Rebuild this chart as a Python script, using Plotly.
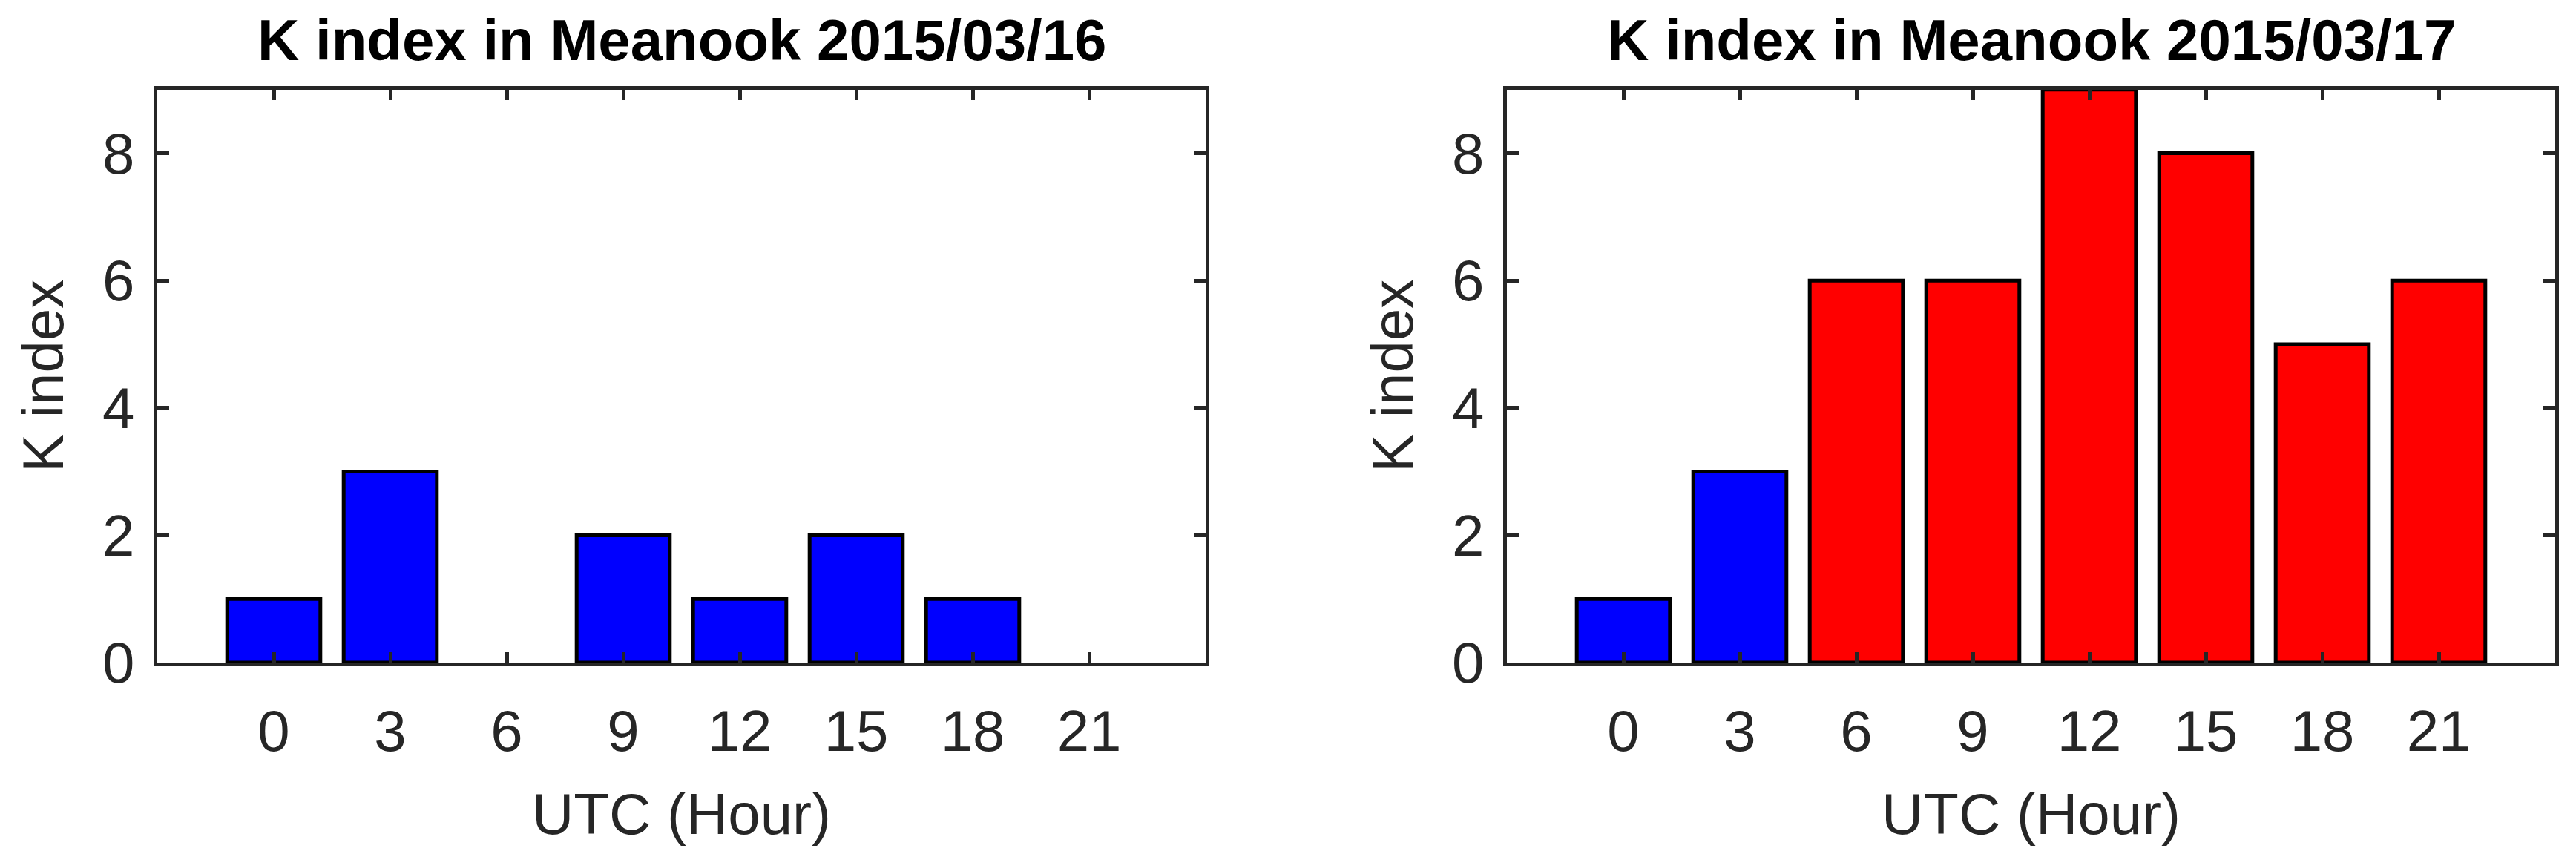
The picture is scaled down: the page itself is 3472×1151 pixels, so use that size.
import plotly.graph_objects as go

# K index values, Meanook, 3-hour intervals (UTC)
hours = [0, 3, 6, 9, 12, 15, 18, 21]
k_0316 = [1, 3, 0, 2, 1, 2, 1, 0]
k_0317 = [1, 3, 6, 6, 9, 8, 5, 6]
titles = ["K index in Meanook 2015/03/16", "K index in Meanook 2015/03/17"]
y_ticks = [0, 2, 4, 6, 8]

W, H = 3472, 1151
OFF = 8  # page body margin
FONT = "Liberation Sans, Arial, sans-serif"
INK = "#262626"


def colours(vals):
    # storm levels (K >= 5) in red, quiet in blue
    return ["#FF0000" if v >= 5 else "#0000FF" for v in vals]


fig = go.Figure()
for i, vals in enumerate([k_0316, k_0317]):
    ax = "" if i == 0 else "2"
    fig.add_trace(go.Bar(
        x=hours, y=vals, width=2.4,
        marker=dict(color=colours(vals),
                    line=dict(color="black", width=[5 if v else 0 for v in vals])),
        xaxis="x" + ax, yaxis="y" + ax, showlegend=False,
    ))

x_dom = [[(212 - OFF) / W, (1625 - OFF) / W], [(2031 - OFF) / W, (3444 - OFF) / W]]
y_dom = [1 - (893 - OFF) / H, 1 - (120.7 - OFF) / H]

axis_common = dict(
    showline=True, linecolor=INK, linewidth=5, mirror="ticks",
    ticks="inside", tickcolor=INK, tickwidth=4.5,
    showgrid=False, zeroline=False, automargin=False,
    tickfont=dict(family=FONT, size=78, color=INK),
)

layout = dict(
    width=W, height=H,
    margin=dict(l=0, r=0, t=0, b=0, autoexpand=False),
    paper_bgcolor="white", plot_bgcolor="white",
    font=dict(family=FONT, color=INK),
    annotations=[],
)
for i in range(2):
    ax = "" if i == 0 else "2"
    layout["xaxis" + ax] = dict(
        axis_common, domain=x_dom[i], range=[-3, 24],
        tickvals=hours, ticklen=14, ticklabelstandoff=20,
        anchor="y" + ax,
        title=dict(text="UTC (Hour)", font=dict(family=FONT, size=78, color=INK), standoff=43),
    )
    layout["yaxis" + ax] = dict(
        axis_common, domain=y_dom, range=[0, 9],
        tickvals=y_ticks, ticklen=16, ticklabelstandoff=10,
        anchor="x" + ax,
        title=dict(text="K index", font=dict(family=FONT, size=78, color=INK), standoff=28),
    )
    layout["annotations"].append(dict(
        text="<b>" + titles[i] + "</b>",
        x=sum(x_dom[i]) / 2, y=1 - (54 - OFF) / H, xref="paper", yref="paper",
        xanchor="center", yanchor="middle", showarrow=False,
        font=dict(family=FONT, size=78, color="black"),
    ))

fig.update_layout(layout)
fig.write_html("out.html")
